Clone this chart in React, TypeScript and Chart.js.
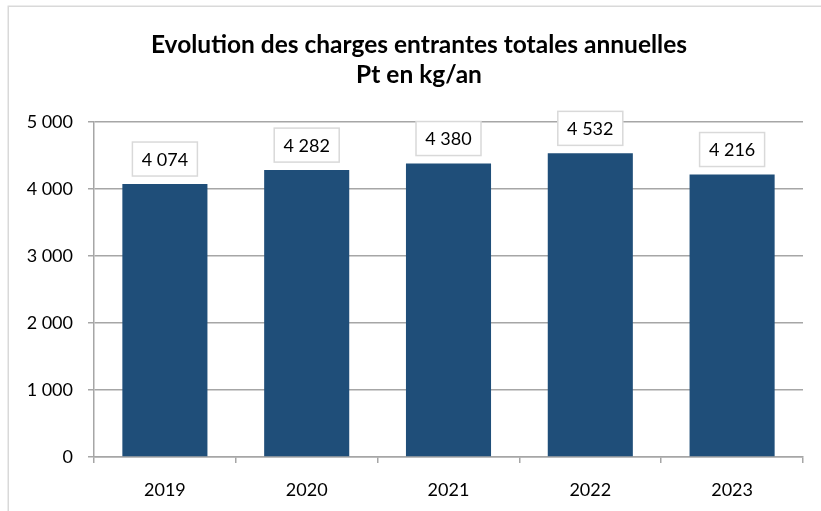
import React, { useEffect, useRef } from "react";
import { Chart, registerables } from "chart.js";

Chart.register(...registerables);

const categories = ["2019", "2020", "2021", "2022", "2023"];
const values = [4074, 4282, 4380, 4532, 4216];
const yTicks = [0, 1000, 2000, 3000, 4000, 5000];
const titleLines = ["Evolution des charges entrantes totales annuelles", "Pt en kg/an"];

const fmt = (v: number) => String(v).replace(/\B(?=(\d{3})+(?!\d))/g, " ");

const FONT = "Lato, 'Open Sans', sans-serif";

const framePlugin = {
  id: "frame",
  beforeDraw(chart: any) {
    const ctx = chart.ctx;
    ctx.save();
    ctx.fillStyle = "#ffffff";
    ctx.fillRect(0, 0, chart.width, chart.height);
    ctx.strokeStyle = "#D9D9D9";
    ctx.lineWidth = 1.5;
    ctx.strokeRect(8.25, 6.25, chart.width + 20, chart.height + 20);
    ctx.restore();
  },
};

const titlePlugin = {
  id: "centerTitle",
  afterDraw(chart: any) {
    const ctx = chart.ctx;
    ctx.save();
    ctx.font = `bold 24.5px ${FONT}`;
    ctx.textAlign = "center";
    ctx.textBaseline = "middle";
    ctx.fillStyle = "#000000";
    titleLines.forEach((line, i) => {
      ctx.fillText(line, 419, 45 + i * 30);
    });
    ctx.restore();
  },
};

const labelPlugin = {
  id: "boxLabels",
  afterDatasetsDraw(chart: any) {
    const ctx = chart.ctx;
    const meta = chart.getDatasetMeta(0);
    ctx.save();
    ctx.font = `18px ${FONT}`;
    ctx.textAlign = "center";
    ctx.textBaseline = "middle";
    meta.data.forEach((bar: any, i: number) => {
      const text = fmt(values[i]);
      const w = 65;
      const h = 34;
      const x = bar.x - w / 2;
      const y = bar.y - 8 - h;
      ctx.fillStyle = "#ffffff";
      ctx.fillRect(x, y, w, h);
      ctx.strokeStyle = "#D9D9D9";
      ctx.lineWidth = 1.5;
      ctx.strokeRect(x, y, w, h);
      ctx.fillStyle = "#000000";
      ctx.fillText(text, bar.x, y + h / 2 + 1);
    });
    ctx.restore();
  },
};

export default function App() {
  const ref = useRef<HTMLCanvasElement>(null);
  useEffect(() => {
    if (!ref.current) return;
    const chart = new Chart(ref.current, {
      type: "bar",
      data: {
        labels: categories,
        datasets: [
          {
            data: values,
            backgroundColor: "#1F4E79",
            borderWidth: 0,
            barPercentage: 0.6,
            categoryPercentage: 1,
          },
        ],
      },
      options: {
        responsive: false,
        animation: false,
        layout: { padding: { left: 0, right: 18, top: 122, bottom: 0 } },
        plugins: {
          legend: { display: false },
          tooltip: { enabled: false },
          title: { display: false },
        },
        scales: {
          x: {
            grid: {
              display: true,
              drawOnChartArea: false,
              drawTicks: true,
              tickLength: 6,
              color: "#A6A6A6",
              lineWidth: 1.5,
            },
            border: { display: true, color: "#A6A6A6", width: 1.5 },
            ticks: {
              color: "#000000",
              font: { family: FONT, size: 18 },
              padding: 16,
            },
            afterFit(scale: any) {
              scale.height = 511 - 457;
            },
          },
          y: {
            min: 0,
            max: 5000,
            afterBuildTicks(scale: any) {
              scale.ticks = yTicks.map((v) => ({ value: v }));
            },
            grid: {
              color: "#A6A6A6",
              lineWidth: 1.5,
              tickLength: 6,
              drawTicks: true,
            },
            border: { display: true, color: "#A6A6A6", width: 1.5 },
            ticks: {
              color: "#000000",
              font: { family: FONT, size: 18 },
              padding: 15,
              callback: (v: any) => fmt(Number(v)),
            },
            afterFit(scale: any) {
              scale.width = 94;
            },
          },
        },
      },
      plugins: [framePlugin, labelPlugin, titlePlugin],
    });
    return () => chart.destroy();
  }, []);
  return (
    <div style={{ position: "absolute", left: 0, top: 0, width: 821, height: 511, overflow: "hidden" }}>
      <canvas ref={ref} width={821} height={511} style={{ display: "block" }} />
    </div>
  );
}
